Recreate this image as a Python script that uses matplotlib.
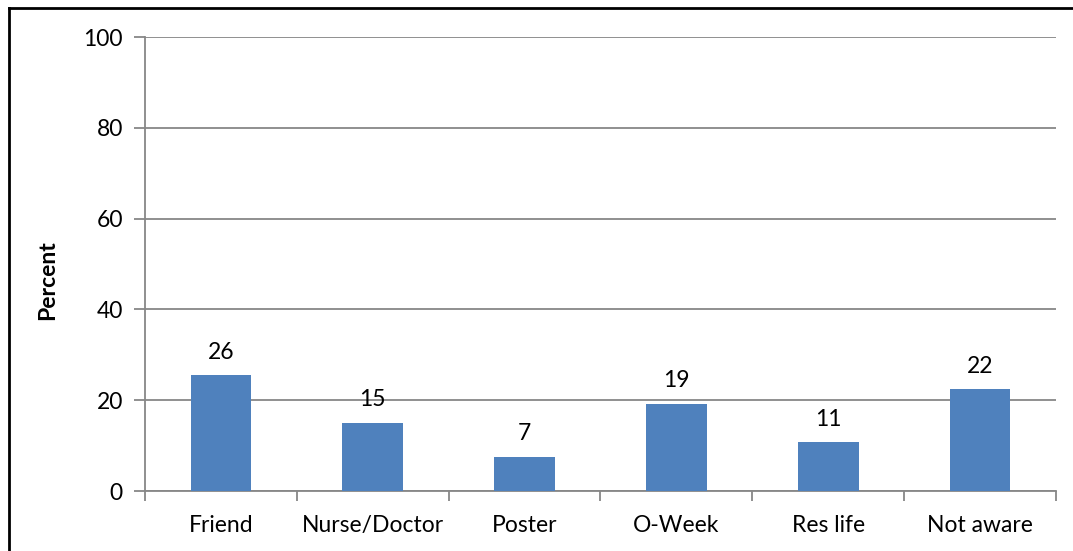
import matplotlib.pyplot as plt
from matplotlib.lines import Line2D

categories = ["Friend", "Nurse/Doctor", "Poster", "O-Week", "Res life", "Not aware"]
values = [25.5, 15.0, 7.5, 19.2, 10.7, 22.4]
labels = ["26", "15", "7", "19", "11", "22"]

plt.rcParams['font.family'] = ['Lato', 'DejaVu Sans']

W, H = 1073, 551
fig = plt.figure(figsize=(W / 100, H / 100), dpi=100)
ax = fig.add_axes([145 / W, 1 - 491 / H, (1056 - 145) / W, (491 - 37) / H])

grid_col = '#878787'
x = range(len(categories))
ax.bar(x, values, width=0.4, color='#4F81BD', zorder=3)
for xi, v, lab in zip(x, values, labels):
    ax.annotate(lab, (xi, v), xytext=(0, 9), textcoords='offset points',
                ha='center', va='bottom', fontsize=16.5, zorder=4)

ax.set_xlim(-0.5, len(categories) - 0.5)
ax.set_ylim(0, 100)
ax.set_yticks(range(0, 101, 20))
ax.yaxis.grid(True, color=grid_col, linewidth=1.3, zorder=0)
ax.set_xticks(list(x))
ax.set_xticklabels(categories, fontsize=16.5)
ax.set_xticks([i - 0.5 for i in range(len(categories) + 1)], minor=True)
ax.tick_params(axis='x', which='major', length=0, pad=17)
ax.tick_params(axis='x', which='minor', length=7, width=1.3, color=grid_col)
ax.tick_params(axis='y', labelsize=16.5, length=8, width=1.3, color=grid_col, pad=8)

for s in ['top', 'right']:
    ax.spines[s].set_visible(False)
for s in ['left', 'bottom']:
    ax.spines[s].set_color(grid_col)
    ax.spines[s].set_linewidth(1.3)

ax.set_ylabel('Percent', fontsize=16.5, fontweight='bold')
ax.yaxis.set_label_coords(-0.095, 0.465)

# outer frame (left and top edges visible)
fig.add_artist(Line2D([9 / W, 9 / W], [0, 1 - 8 / H], color='black', linewidth=2))
fig.add_artist(Line2D([9 / W, 1], [1 - 8 / H, 1 - 8 / H], color='black', linewidth=2))

fig.savefig('out.png', dpi=100)
